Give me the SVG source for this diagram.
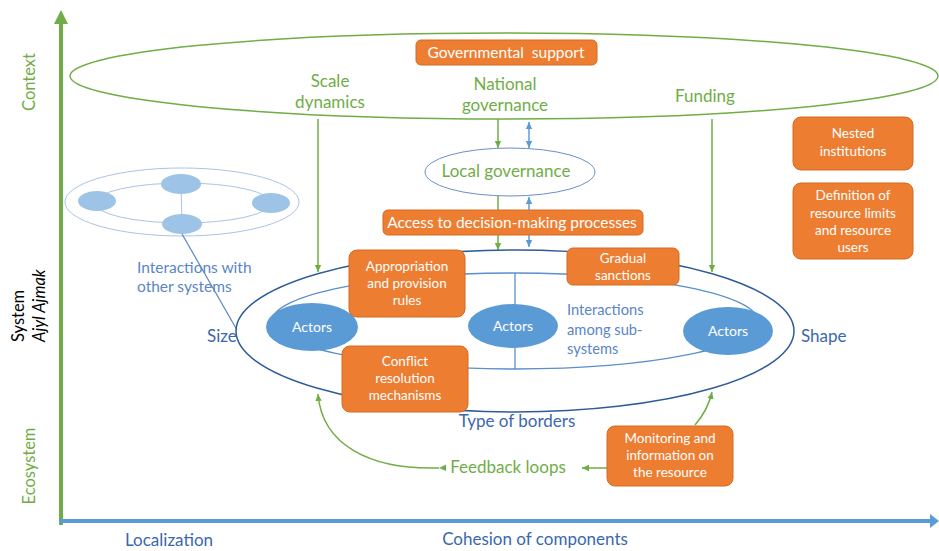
<svg xmlns="http://www.w3.org/2000/svg" width="939" height="551" viewBox="0 0 939 551">
<defs>
<style>
text{font-family:Lato,"Liberation Sans",sans-serif}
.box{fill:#ED7D31;stroke:#D46A22;stroke-width:1}
.bt{fill:#fff;font-size:13.5px;text-anchor:middle}
.bt1{fill:#fff;font-size:15.5px;text-anchor:middle}
.gt{fill:#70AD47;font-size:17px;text-anchor:middle}
.bl{fill:#3A67AE;font-size:17px}
.lb{fill:#5B86C5;font-size:14.7px}
.lb2{fill:#5B86C5;font-size:15.5px}
.act{fill:#5B9BD5}
.at{fill:#fff;font-size:14px;text-anchor:middle}
.g{stroke:#70AD47;stroke-width:1.5;fill:none}
.b{stroke:#5B9BD5;stroke-width:1.5;fill:none}
.node{fill:#9DC3E6}
</style>
<marker id="ag" markerWidth="8" markerHeight="8" refX="7" refY="4" orient="auto" markerUnits="userSpaceOnUse"><path d="M0,0.8 L7,4 L0,7.2z" fill="#70AD47"/></marker>
<marker id="ab" markerWidth="8" markerHeight="8" refX="7" refY="4" orient="auto" markerUnits="userSpaceOnUse"><path d="M0,0.8 L7,4 L0,7.2z" fill="#5B9BD5"/></marker>
<marker id="abs" markerWidth="8" markerHeight="8" refX="1" refY="4" orient="auto" markerUnits="userSpaceOnUse"><path d="M8,0.8 L1,4 L8,7.2z" fill="#5B9BD5"/></marker>
</defs>
<rect width="939" height="551" fill="#fff"/>

<g id="axes">
<line x1="61" y1="22" x2="61" y2="525" stroke="#70AD47" stroke-width="4"/>
<path d="M54,24 L61,10 L68,24z" fill="#70AD47"/>
<line x1="59" y1="521" x2="932" y2="521" stroke="#5B9BD5" stroke-width="4"/>
<path d="M930,514 L939,521 L930,528z" fill="#5B9BD5"/>
<text transform="translate(35,82) rotate(-90)" font-size="16.5" fill="#70AD47" text-anchor="middle">Context</text>
<text transform="translate(35,466) rotate(-90)" font-size="16.5" fill="#70AD47" text-anchor="middle">Ecosystem</text>
<text transform="translate(24,342) rotate(-90)" font-size="16.5" fill="#000">System</text>
<text transform="translate(45,342) rotate(-90)" font-size="16.5" fill="#000" font-style="italic">Ajyl Ajmak</text>
<text x="125" y="546" class="bl">Localization</text>
<text x="535" y="545" class="bl" text-anchor="middle">Cohesion of components</text>
</g>

<g id="context">
<ellipse cx="504" cy="76" rx="434" ry="43" fill="none" stroke="#70AD47" stroke-width="1.5"/>
<text x="330" y="87" class="gt">Scale</text>
<text x="330" y="108" class="gt">dynamics</text>
<text x="505" y="90" class="gt">National</text>
<text x="505" y="111" class="gt">governance</text>
<text x="705" y="102" class="gt">Funding</text>
</g>

<g id="governmental-support">
<rect x="416" y="40" width="181" height="25" rx="5" class="box"/>
<text x="506" y="58" class="bt1" xml:space="preserve">Governmental  support</text>
</g>

<g id="local-governance">
<ellipse cx="510" cy="172" rx="85" ry="24" fill="#fff" stroke="#6A8FC8" stroke-width="1"/>
<text x="506" y="177" class="gt">Local governance</text>
</g>

<g id="access">
<rect x="383" y="210" width="260" height="25" rx="5" class="box"/>
<text x="512" y="228" class="bt1">Access to decision-making processes</text>
</g>

<g id="other-systems">
<ellipse cx="182" cy="202" rx="117" ry="34" fill="none" stroke="#A9C4E6" stroke-width="1"/>
<ellipse cx="183" cy="203" rx="88" ry="20" fill="none" stroke="#A9C4E6" stroke-width="1"/>
<line x1="181" y1="184" x2="182" y2="224" stroke="#A9C4E6" stroke-width="1"/>
<ellipse cx="97" cy="201" rx="19" ry="10" class="node"/>
<ellipse cx="181" cy="184" rx="20" ry="10" class="node"/>
<ellipse cx="271" cy="203" rx="19" ry="10" class="node"/>
<ellipse cx="182" cy="224" rx="20" ry="10" class="node"/>
<text x="137" y="273" class="lb2">Interactions with</text>
<text x="137" y="292" class="lb2">other systems</text>
</g>

<g id="connectors">
<line x1="318" y1="119" x2="318" y2="272" class="g" marker-end="url(#ag)"/>
<line x1="712" y1="119" x2="712" y2="272" class="g" marker-end="url(#ag)"/>
<line x1="498" y1="119" x2="498" y2="148" class="g" marker-end="url(#ag)"/>
<line x1="529" y1="122" x2="529" y2="148" class="b" marker-start="url(#abs)" marker-end="url(#ab)"/>
<line x1="498" y1="196" x2="498" y2="210" class="g"/>
<line x1="529" y1="210" x2="529" y2="197" class="b" marker-end="url(#ab)"/>
<line x1="498" y1="235" x2="498" y2="250" class="g" marker-end="url(#ag)"/>
<line x1="529" y1="235" x2="529" y2="247" class="b" marker-end="url(#ab)"/>
<line x1="182" y1="234" x2="237" y2="330" stroke="#5B86C5" stroke-width="1.2"/>
<path d="M439,468 C370,470 322,445 318,394" class="g" stroke-width="2.2" marker-start="url(#ag)" marker-end="url(#ag)"/>
<line x1="607" y1="468" x2="582" y2="468" class="g" stroke-width="2.2" marker-end="url(#ag)"/>
<path d="M695,425 Q708,410 712,392" class="g" stroke-width="2.2" marker-end="url(#ag)"/>
</g>

<g id="system">
<ellipse cx="515" cy="331" rx="279" ry="81" fill="none" stroke="#2F5C99" stroke-width="1.5"/>
<ellipse cx="515" cy="321" rx="243" ry="48" fill="none" stroke="#5B8FCC" stroke-width="1.3"/>
<line x1="515" y1="273" x2="515" y2="369" stroke="#5B8FCC" stroke-width="1.3"/>
<text x="207" y="342" class="bl">Size</text>
<text x="801" y="342" class="bl">Shape</text>
<text x="517" y="427" class="bl" text-anchor="middle">Type of borders</text>
<text x="567" y="315" class="lb">Interactions</text>
<text x="567" y="335" class="lb">among sub-</text>
<text x="567" y="354" class="lb">systems</text>
</g>

<g id="actors-left">
<ellipse cx="312" cy="327" rx="46" ry="24" class="act"/>
<text x="312" y="332" class="at">Actors</text>
</g>
<g id="actors-middle">
<ellipse cx="513" cy="326" rx="45" ry="22" class="act"/>
<text x="513" y="331" class="at">Actors</text>
</g>
<g id="actors-right">
<ellipse cx="728" cy="331" rx="45" ry="24" class="act"/>
<text x="728" y="336" class="at">Actors</text>
</g>

<g id="appropriation">
<rect x="349" y="250" width="116" height="67" rx="8" class="box"/>
<text x="407" y="271" class="bt">Appropriation</text>
<text x="407" y="288" class="bt">and provision</text>
<text x="407" y="305" class="bt">rules</text>
</g>

<g id="conflict">
<rect x="342" y="346" width="126" height="66" rx="8" class="box"/>
<text x="405" y="366" class="bt">Conflict</text>
<text x="405" y="383" class="bt">resolution</text>
<text x="405" y="400" class="bt">mechanisms</text>
</g>

<g id="sanctions">
<rect x="567" y="248" width="112" height="37" rx="6" class="box"/>
<text x="623" y="263" class="bt">Gradual</text>
<text x="623" y="280" class="bt">sanctions</text>
</g>

<g id="nested">
<rect x="793" y="117" width="120" height="53" rx="8" class="box"/>
<text x="853" y="138" class="bt">Nested</text>
<text x="853" y="156" class="bt">institutions</text>
</g>

<g id="definition">
<rect x="793" y="183" width="120" height="76" rx="8" class="box"/>
<text x="853" y="200" class="bt">Definition of</text>
<text x="853" y="218" class="bt">resource limits</text>
<text x="853" y="235" class="bt">and resource</text>
<text x="853" y="252" class="bt">users</text>
</g>

<g id="monitoring">
<rect x="607" y="426" width="126" height="60" rx="8" class="box"/>
<text x="670" y="443" class="bt">Monitoring and</text>
<text x="670" y="460" class="bt">information on</text>
<text x="670" y="477" class="bt">the resource</text>
</g>

<g id="feedback">
<text x="508" y="473" class="gt">Feedback loops</text>
</g>
</svg>
